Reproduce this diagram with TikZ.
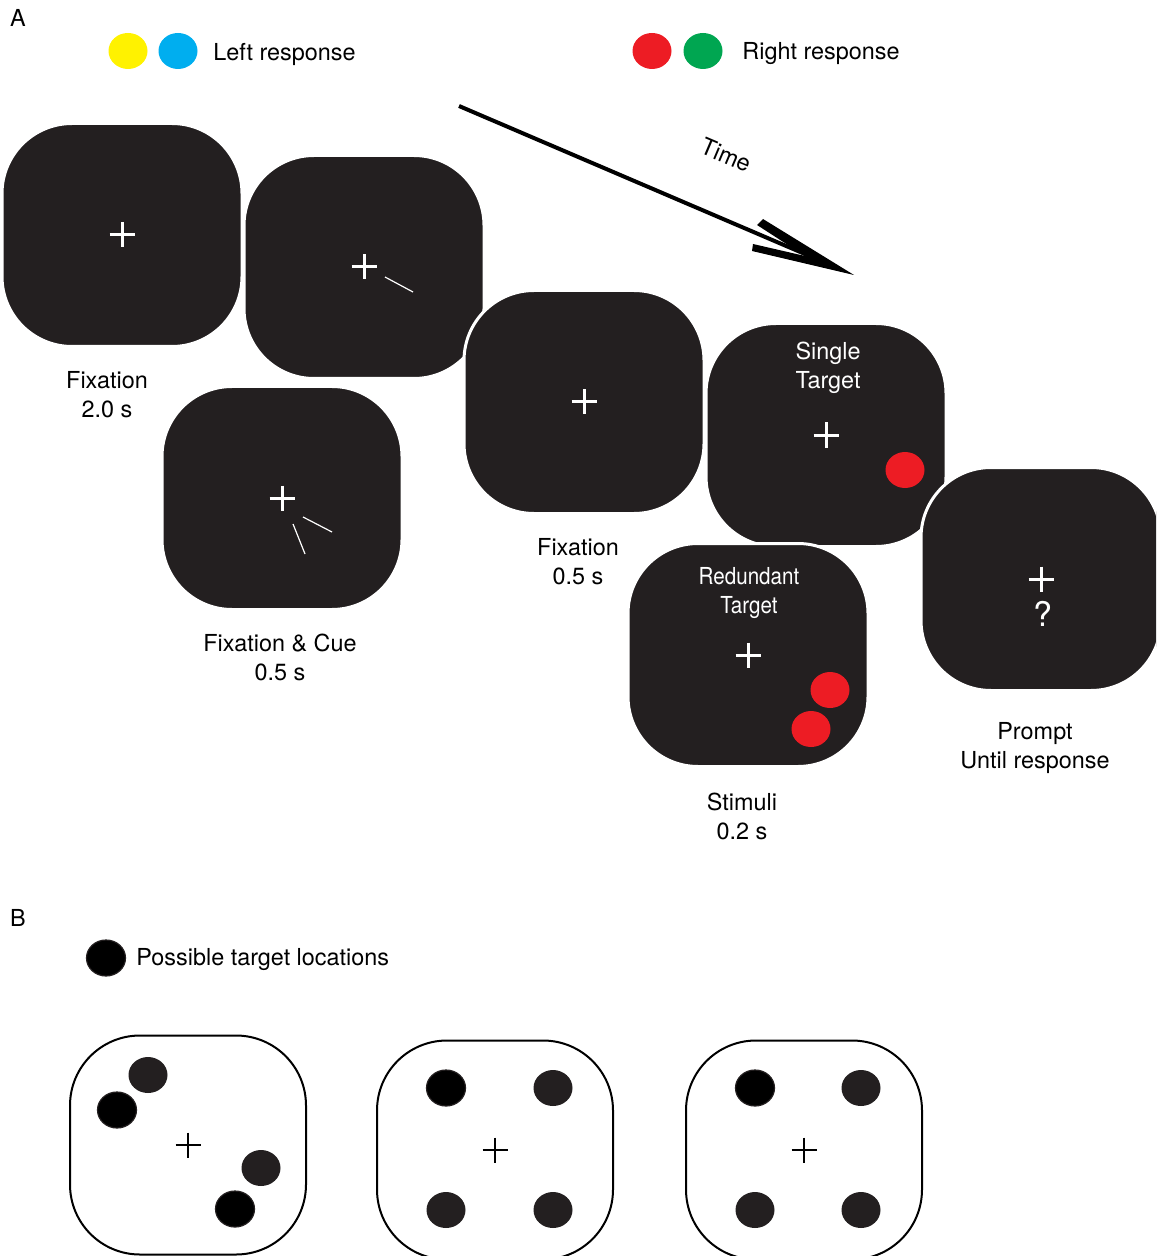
\documentclass[tikz,border=0pt]{standalone}
\usepackage{fontspec}
\setmainfont{TeX Gyre Heros}
\usetikzlibrary{arrows.meta,shapes.geometric}
\definecolor{scrfill}{HTML}{231F20}
\definecolor{tgtred}{HTML}{ED1C24}
\definecolor{tgtyellow}{HTML}{FFF200}
\definecolor{tgtblue}{HTML}{00AEEF}
\definecolor{tgtgreen}{HTML}{00A651}
\tikzset{
  fixcross/.pic={\draw (-12.5,0) -- (12.5,0) (0,-12.5) -- (0,12.5);}
}
\begin{document}
\begin{tikzpicture}[x=0.5pt, y=-0.5pt,
  screen/.style={draw=white, line width=1.5pt, fill=scrfill, rounded corners=35pt,
                 minimum width=120pt, minimum height=111.5pt, inner sep=0pt},
  frame/.style={draw=black, line width=1pt, fill=white, rounded corners=35pt,
                minimum width=118pt, minimum height=109.5pt, inner sep=0pt},
  dot/.style={ellipse, minimum width=19.5pt, minimum height=18pt, inner sep=0pt},
  lbl/.style={font=\fontsize{11.7}{14.5}\selectfont, align=center, inner sep=0pt},
  wlbl/.style={lbl, text=white},
  wcross/.style={white, line width=1.5pt},
  bcross/.style={black, line width=1.1pt},
  cueline/.style={white, line width=0.6pt},
  timeline/.style={line width=2pt, shorten >=20pt}
]
\useasboundingbox (0,0) rectangle (1156,1256);
\clip (0,0) rectangle (1156,1256);
% panel A: legend
\node[lbl] (panelA) at (18,18) {A};
\node[dot, fill=tgtyellow] (ldot1) at (128,51) {};
\node[dot, fill=tgtblue] (ldot2) at (178,51) {};
\node[lbl, anchor=west] (lefttxt) at (213,54) {Left response};
\node[dot, fill=tgtred] (rdot1) at (652,51) {};
\node[dot, fill=tgtgreen] (rdot2) at (703,51) {};
\node[lbl, anchor=west] (righttxt) at (742,54) {Right response};
% time arrow
\coordinate (tstart) at (459,106);
\coordinate (tend) at (854,275);
\draw[timeline] (tstart) -- (tend);
\fill (tend) -- (763,219) -- (757,225) -- (805,256) -- (753,244) -- (752,251) -- cycle;
\node[lbl, rotate=-23] (timetxt) at (726,155) {Time};
% screens
\node[screen] (fix1) at (122,235) {};
\pic[wcross] at (fix1.center) {fixcross};
\node[screen] (cue1) at (364,267) {};
\pic[wcross] at (cue1.center) {fixcross};
\draw[cueline] (385,277) -- (413,292);
\node[screen] (cue2) at (282,498) {};
\pic[wcross] at (cue2.center) {fixcross};
\draw[cueline] (303,517) -- (332,532);
\draw[cueline] (293,524) -- (305,554);
\node[screen] (fix2) at (584,402) {};
\pic[wcross] at (fix2.center) {fixcross};
\node[screen] (single) at (826,435) {};
\pic[wcross] at (single.center) {fixcross};
\node[wlbl] (singletxt) at (828,368) {Single\\Target};
\node[dot, fill=tgtred] (sdot) at (905,470) {};
\node[screen] (redund) at (748,655) {};
\pic[wcross] at (redund.center) {fixcross};
\node[wlbl, xscale=0.88] (redundtxt) at (749,593) {Redundant\\Target};
\node[dot, fill=tgtred] (rtdot1) at (830,690) {};
\node[dot, fill=tgtred] (rtdot2) at (811,729) {};
\node[screen] (prompt) at (1041,579) {};
\pic[wcross] at (prompt.center) {fixcross};
\node[wlbl, font=\fontsize{17}{17}\selectfont] (qmark) at (1043,614) {?};
% screen labels
\node[lbl] (fix1txt) at (107,395) {Fixation\\2.0 s};
\node[lbl] (cue2txt) at (280,657) {Fixation \& Cue\\0.5 s};
\node[lbl] (fix2txt) at (578,562) {Fixation\\0.5 s};
\node[lbl] (stimtxt) at (742,816) {Stimuli\\0.2 s};
\node[lbl] (prompttxt) at (1035,748) {Prompt\\Until response};
% panel B
\node[lbl] (panelB) at (18,918) {B};
\node[dot, fill=black, draw=scrfill, line width=0.6pt] (ldotB) at (106,958) {};
\node[lbl, anchor=west] (loctxt) at (136,960) {Possible target locations};
\node[frame] (box1) at (188,1145) {};
\pic[bcross] at (box1.center) {fixcross};
\node[dot, fill=scrfill] at (148,1075) {};
\node[dot, fill=black, draw=scrfill, line width=0.6pt] at (117,1110) {};
\node[dot, fill=scrfill] at (261,1168) {};
\node[dot, fill=black, draw=scrfill, line width=0.6pt] at (235,1209) {};
\node[frame] (box2) at (495,1150) {};
\pic[bcross] at (box2.center) {fixcross};
\node[dot, fill=black, draw=scrfill, line width=0.6pt] at (446,1088) {};
\node[dot, fill=scrfill] at (553,1088) {};
\node[dot, fill=scrfill] at (446,1210) {};
\node[dot, fill=scrfill] at (553,1210) {};
\node[frame] (box3) at (804,1150) {};
\pic[bcross] at (box3.center) {fixcross};
\node[dot, fill=black, draw=scrfill, line width=0.6pt] at (755,1088) {};
\node[dot, fill=scrfill] at (861,1088) {};
\node[dot, fill=scrfill] at (755,1210) {};
\node[dot, fill=scrfill] at (861,1210) {};
\end{tikzpicture}
\end{document}
